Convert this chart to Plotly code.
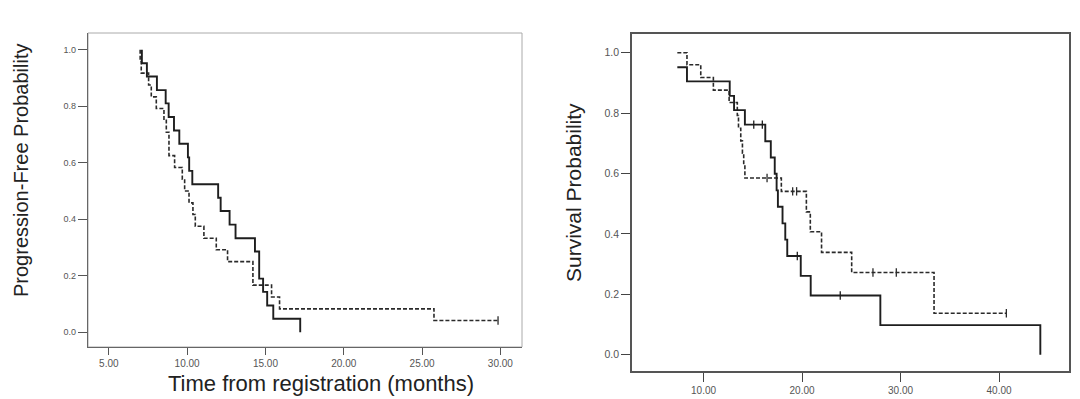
import plotly.graph_objects as go

# ---------------- data ----------------
# Left panel: progression-free survival, step times (months) and survival levels
left_solid_t = [7.11, 7.11, 7.43, 8.07, 8.63, 8.82, 9.16, 9.50, 10.05, 10.13, 10.33,
                11.98, 12.14, 12.71, 13.09, 14.33, 14.60, 14.85, 15.11, 15.50, 17.22]
left_solid_s = [1.0, 0.952, 0.905, 0.857, 0.810, 0.762, 0.714, 0.667, 0.619, 0.571, 0.524,
                0.476, 0.429, 0.381, 0.333, 0.286, 0.190, 0.143, 0.095, 0.048, 0.0]

left_dash_t = [7.00, 7.00, 7.07, 7.54, 7.71, 8.03, 8.52, 8.67, 8.84, 9.20, 9.69, 9.84,
               10.12, 10.37, 10.52, 11.07, 11.86, 12.58, 14.20, 15.39, 15.90, 25.76, 29.85]
left_dash_s = [1.0, 0.958, 0.917, 0.875, 0.833, 0.792, 0.750, 0.708, 0.625, 0.583, 0.542, 0.500,
               0.458, 0.417, 0.375, 0.333, 0.292, 0.250, 0.167, 0.125, 0.083, 0.042, 0.042]
left_dash_cens_t = [29.85]
left_dash_cens_s = [0.042]

# Right panel: overall survival
right_solid_t = [7.34, 8.32, 12.66, 13.10, 14.20, 16.27, 16.83, 17.23, 17.42, 17.55,
                 18.02, 18.30, 18.50, 19.87, 20.88, 27.95, 44.19]
right_solid_s = [0.952, 0.905, 0.857, 0.810, 0.762, 0.707, 0.653, 0.599, 0.544, 0.490,
                 0.435, 0.381, 0.327, 0.261, 0.196, 0.098, 0.0]
right_solid_cens_t = [15.10, 15.97, 19.52, 23.88]
right_solid_cens_s = [0.762, 0.762, 0.327, 0.196]

right_dash_t = [7.34, 8.32, 9.72, 11.00, 12.60, 13.43, 13.55, 13.78, 13.95, 14.08, 14.20,
                17.90, 20.44, 20.84, 21.98, 25.04, 33.40, 40.74]
right_dash_s = [1.0, 0.960, 0.918, 0.876, 0.835, 0.792, 0.750, 0.708, 0.667, 0.625, 0.585,
                0.541, 0.473, 0.407, 0.339, 0.272, 0.137, 0.137]
right_dash_cens_t = [16.45, 19.05, 19.45, 27.20, 29.57, 40.74]
right_dash_cens_s = [0.585, 0.541, 0.541, 0.272, 0.272, 0.137]

left_xticks = [5, 10, 15, 20, 25, 30]
left_xlabels = ["5.00", "10.00", "15.00", "20.00", "25.00", "30.00"]
right_xticks = [10, 20, 30, 40]
right_xlabels = ["10.00", "20.00", "30.00", "40.00"]
yticks = [0, 0.2, 0.4, 0.6, 0.8, 1.0]
ylabels = ["0.0", "0.2", "0.4", "0.6", "0.8", "1.0"]

# ---------------- figure ----------------
W, H = 1080, 399
FONT = "Arial, Liberation Sans, sans-serif"
SOLID = "#1e1e1e"
DASH = "#2a2a2a"

fig = go.Figure()


def step(x, y, xa, ya, dashed):
    fig.add_trace(go.Scatter(
        x=x, y=y, xaxis=xa, yaxis=ya, mode="lines", line_shape="hv",
        line=dict(color=DASH if dashed else SOLID, width=1.6 if dashed else 1.9,
                  dash="4px,2px" if dashed else "solid"),
        hoverinfo="skip"))


def cens(x, y, xa, ya, dashed):
    fig.add_trace(go.Scatter(
        x=x, y=y, xaxis=xa, yaxis=ya, mode="markers",
        marker=dict(symbol="line-ns", size=6,
                    line=dict(color=DASH if dashed else SOLID, width=1.3)),
        hoverinfo="skip"))


step(left_dash_t, left_dash_s, "x", "y", True)
step(left_solid_t, left_solid_s, "x", "y", False)
cens(left_dash_cens_t, left_dash_cens_s, "x", "y", True)

step(right_dash_t, right_dash_s, "x2", "y2", True)
step(right_solid_t, right_solid_s, "x2", "y2", False)
cens(right_dash_cens_t, right_dash_cens_s, "x2", "y2", True)
cens(right_solid_cens_t, right_solid_cens_s, "x2", "y2", False)

tickfont = dict(family=FONT, size=10, color="#555")

fig.update_layout(
    width=W, height=H, margin=dict(l=0, r=0, t=0, b=0),
    paper_bgcolor="white", plot_bgcolor="white", showlegend=False,
    xaxis=dict(domain=[80 / W, 514 / W], range=[3.67, 31.38], anchor="y",
               tickvals=left_xticks, ticktext=left_xlabels, ticks="outside",
               ticklen=7, tickwidth=1.2, tickcolor="#555", showline=True,
               linecolor="#666", linewidth=1.3, showgrid=False, zeroline=False,
               tickfont=tickfont),
    yaxis=dict(domain=[1 - 339 / H, 1 - 25 / H], range=[-0.052, 1.059], anchor="x",
               tickvals=yticks, ticktext=ylabels, ticks="outside",
               ticklen=9, tickwidth=1.2, tickcolor="#555", showline=True,
               linecolor="#666", linewidth=1.3, showgrid=False, zeroline=False,
               tickfont=dict(family=FONT, size=9, color="#555")),
    xaxis2=dict(domain=[624 / W, 1061 / W], range=[2.74, 47.1], anchor="y2",
                tickvals=right_xticks, ticktext=right_xlabels, ticks="outside",
                ticklen=9, tickwidth=1.4, tickcolor="#444", showline=True, mirror=True,
                linecolor="#555", linewidth=1.5, showgrid=False, zeroline=False,
                tickfont=tickfont),
    yaxis2=dict(domain=[1 - 363 / H, 1 - 26 / H], range=[-0.054, 1.062], anchor="x2",
                tickvals=yticks, ticktext=ylabels, ticks="outside",
                ticklen=9, tickwidth=1.4, tickcolor="#444", showline=True, mirror=True,
                linecolor="#555", linewidth=1.5, showgrid=False, zeroline=False,
                tickfont=dict(family=FONT, size=10.5, color="#555")),
    shapes=[dict(type="rect", xref="x domain", yref="y domain", x0=0, x1=1, y0=0, y1=1,
                 line=dict(color="#aaa", width=1), layer="below")],
    annotations=[
        dict(text="Progression-Free Probability", xref="paper", yref="paper",
             x=13 / W, y=1 - 163 / H, textangle=-90, showarrow=False,
             xanchor="center", yanchor="middle",
             font=dict(family=FONT, size=20, color="#222")),
        dict(text="Survival Probability", xref="paper", yref="paper",
             x=566 / W, y=1 - 185 / H, textangle=-90, showarrow=False,
             xanchor="center", yanchor="middle",
             font=dict(family=FONT, size=21, color="#222")),
        dict(text="Time from registration (months)", xref="paper", yref="paper",
             x=313 / W, y=1 - 375 / H, showarrow=False,
             xanchor="center", yanchor="middle",
             font=dict(family=FONT, size=22, color="#222")),
    ],
)

fig.write_html("out.html")
